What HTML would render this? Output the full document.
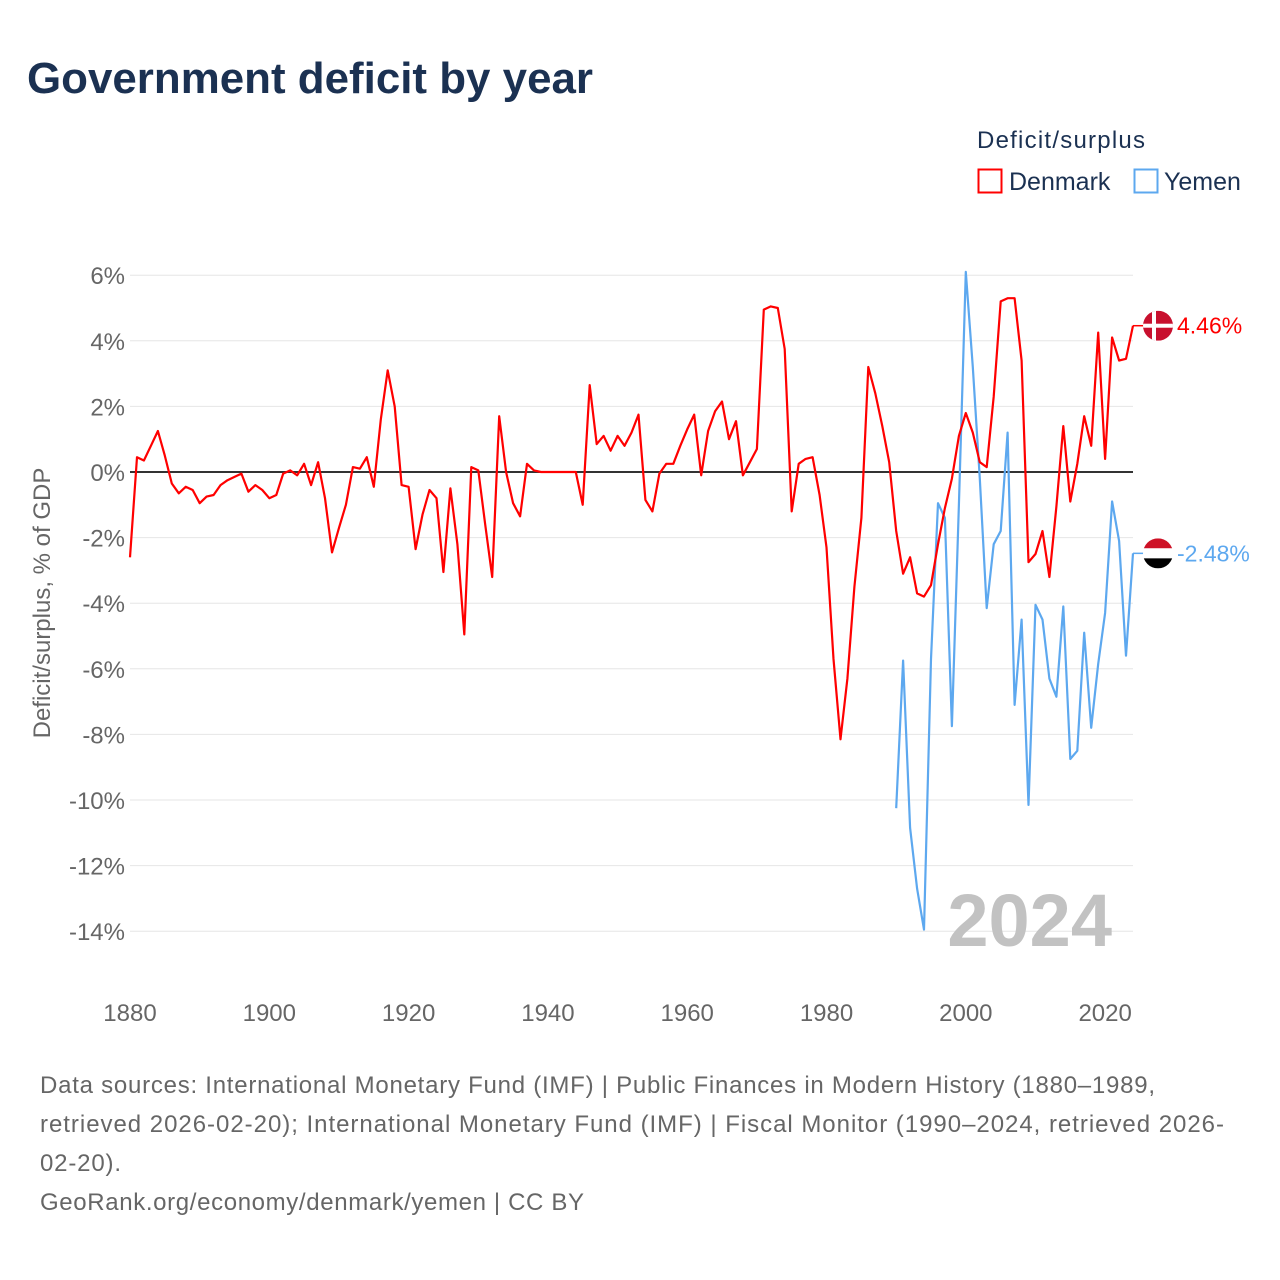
<!DOCTYPE html>
<html><head><meta charset="utf-8">
<style>
body{margin:0;background:#fff;font-family:"Liberation Sans",sans-serif;}
#wrap{position:relative;width:1280px;height:1280px;overflow:hidden;}
</style></head>
<body>
<div id="wrap">
<svg id="chart" width="1280" height="1280" xmlns="http://www.w3.org/2000/svg">
<text x="27" y="93" font-size="44" font-weight="bold" fill="#1b3152" textLength="566" lengthAdjust="spacingAndGlyphs">Government deficit by year</text>
<text x="977" y="148" font-size="24" fill="#1b3152" textLength="168">Deficit/surplus</text>
<g><rect x="978.5" y="169.5" width="23" height="23" fill="none" stroke="#ff0000" stroke-width="2"/><text x="1009" y="190" font-size="25" fill="#1b3152">Denmark</text></g>
<g><rect x="1134.5" y="169.5" width="23" height="23" fill="none" stroke="#5da8ef" stroke-width="2"/><text x="1164" y="190" font-size="25" fill="#1b3152">Yemen</text></g>
<g id="grid"></g>
<g id="ylabels"></g>
<g id="xlabels"></g>
<text x="0" y="0" transform="translate(50,603) rotate(-90)" text-anchor="middle" font-size="24" fill="#666">Deficit/surplus, % of GDP</text>
<text x="1112" y="946" text-anchor="end" font-size="74" font-weight="bold" fill="#c2c2c2">2024</text>
<g id="series"></g>
<g id="ends"></g>
<g font-size="24" fill="#666">
<text x="40" y="1093" textLength="1115">Data sources: International Monetary Fund (IMF) | Public Finances in Modern History (1880–1989,</text>
<text x="40" y="1132" textLength="1184">retrieved 2026-02-20); International Monetary Fund (IMF) | Fiscal Monitor (1990–2024, retrieved 2026-</text>
<text x="40" y="1171" textLength="81">02-20).</text>
<text x="40" y="1210" textLength="544">GeoRank.org/economy/denmark/yemen | CC BY</text>
</g>
</svg>
</div>
<script>
const yTicks=[6,4,2,0,-2,-4,-6,-8,-10,-12,-14];
const xTicks=[1880,1900,1920,1940,1960,1980,2000,2020];
const denmarkStart=1880;
const denmarkValues=[-2.6,0.45,0.35,0.8,1.25,0.5,-0.35,-0.65,-0.45,-0.55,-0.95,-0.75,-0.7,-0.4,-0.25,-0.15,-0.05,-0.6,-0.4,-0.55,
-0.8,-0.7,-0.05,0.05,-0.1,0.25,-0.4,0.3,-0.8,-2.45,-1.7,-1.0,0.15,0.1,0.45,-0.45,1.6,3.1,2.0,-0.4,
-0.45,-2.35,-1.3,-0.55,-0.8,-3.05,-0.5,-2.2,-4.95,0.15,0.05,-1.6,-3.2,1.7,0,-0.95,-1.35,0.25,0.05,0,
0,0,0,0,0,-1.0,2.65,0.85,1.1,0.65,1.1,0.8,1.2,1.75,-0.85,-1.2,-0.05,0.25,0.25,0.8,
1.3,1.75,-0.1,1.25,1.85,2.15,1.0,1.55,-0.1,0.3,0.7,4.95,5.05,5.0,3.75,-1.2,0.25,0.4,0.45,-0.7,
-2.3,-5.7,-8.15,-6.3,-3.5,-1.4,3.2,2.4,1.4,0.3,-1.8,-3.1,-2.6,-3.7,-3.8,-3.45,-2.2,-1.1,-0.2,1.1,
1.8,1.2,0.3,0.15,2.3,5.2,5.3,5.3,3.4,-2.75,-2.5,-1.8,-3.2,-1.05,1.4,-0.9,0.25,1.7,0.8,4.25,
0.4,4.1,3.4,3.45,4.46];
const yemenStart=1990;
const yemenValues=[-10.25,-5.75,-10.85,-12.7,-13.95,-5.7,-0.95,-1.4,-7.75,-1.0,6.1,3.2,-0.2,-4.15,-2.2,-1.8,1.2,-7.1,-4.5,-10.15,
-4.05,-4.5,-6.3,-6.85,-4.1,-8.75,-8.5,-4.9,-7.8,-5.85,-4.3,-0.9,-2.1,-5.6,-2.48];
const NS="http://www.w3.org/2000/svg";
const X0=130,X1=1133,YR0=1880,YR1=2024;
function xs(y){return X0+(y-YR0)*(X1-X0)/(YR1-YR0);}
function ys(v){return 472-v*32.8;}
function mk(tag,attrs,parent){const e=document.createElementNS(NS,tag);for(const k in attrs)e.setAttribute(k,attrs[k]);parent.appendChild(e);return e;}
const grid=document.getElementById('grid'),yl=document.getElementById('ylabels'),xl=document.getElementById('xlabels');
yTicks.forEach(t=>{
 if(t!==0){const l=mk('line',{x1:X0,x2:X1,y1:ys(t),y2:ys(t),stroke:'#e6e6e6','stroke-width':1},grid);
 
 }
 const tx=mk('text',{x:125,y:ys(t)+9,'text-anchor':'end','font-size':24,fill:'#666'},yl);tx.textContent=t+'%';
 
 
});
xTicks.forEach(t=>{
 const tx=mk('text',{x:xs(t),y:1021,'text-anchor':'middle','font-size':24,fill:'#666'},xl);tx.textContent=t;
 
 
});
const zl=mk('line',{x1:X0,x2:X1,y1:ys(0),y2:ys(0),stroke:'#333','stroke-width':2},grid);


const ser=document.getElementById('series');
function path(start,vals,color,name){
 const d=vals.map((v,i)=>(i?'L':'M')+xs(start+i).toFixed(1)+','+ys(v).toFixed(1)).join('');
 const p=mk('path',{d:d,fill:'none',stroke:color,'stroke-width':2.2,'stroke-linejoin':'round'},ser);
 
 
}
path(yemenStart,yemenValues,'#5da8ef','yemen-line');
path(denmarkStart,denmarkValues,'#ff0000','denmark-line');
const ends=document.getElementById('ends');
function endLabel(v,color,flag,name){
 const y=ys(v);
 mk('line',{x1:X1,x2:1146,y1:y,y2:y,stroke:color,'stroke-width':1.5},ends);
 const g=mk('g',{},ends);
 
 
 mk('clipPath',{id:'c'+name},g);
 const cp=g.lastChild;mk('circle',{cx:1158,cy:y,r:15},cp);
 const fg=mk('g',{'clip-path':'url(#c'+name+')'},g);
 if(flag==='dk'){
  mk('rect',{x:1143,y:y-15,width:30,height:30,fill:'#c8102e'},fg);
  mk('rect',{x:1152,y:y-15,width:4,height:30,fill:'#fff'},fg);
  mk('rect',{x:1143,y:y-2,width:30,height:4,fill:'#fff'},fg);
 }else{
  mk('rect',{x:1143,y:y-15,width:30,height:10,fill:'#ce1126'},fg);
  mk('rect',{x:1143,y:y-5,width:30,height:10,fill:'#fff'},fg);
  mk('rect',{x:1143,y:y+5,width:30,height:10,fill:'#000'},fg);
 }
 const t=mk('text',{x:1177,y:y+8,'font-size':23,fill:color},g);
 t.textContent=v.toFixed(2)+'%';
}
endLabel(denmarkValues[denmarkValues.length-1],'#ff0000','dk','denmark-end-label');
endLabel(yemenValues[yemenValues.length-1],'#5da8ef','ye','yemen-end-label');
</script>
</body></html>
